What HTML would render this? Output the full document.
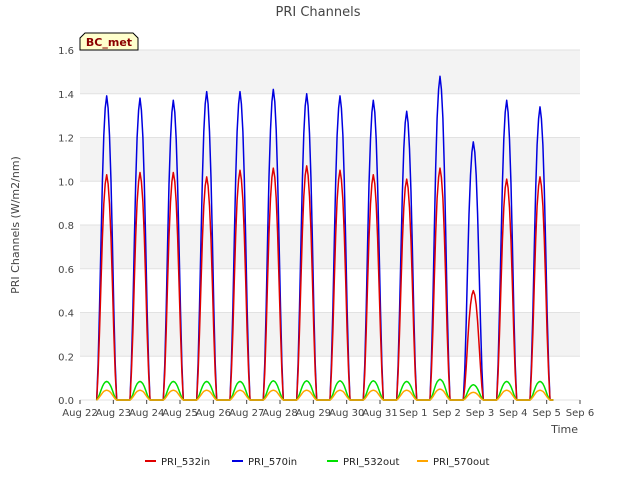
<!DOCTYPE html>
<html><head><meta charset="utf-8"><style>
body{margin:0;background:#fff;font-family:"DejaVu Sans","Liberation Sans",sans-serif}
text{font-family:"DejaVu Sans","Liberation Sans",sans-serif}
</style></head><body>
<svg id="chart" width="640" height="480" viewBox="0 0 640 480" xmlns="http://www.w3.org/2000/svg">
<rect width="640" height="480" fill="#fff"/>
<g id="bands"></g>
<g id="grid"></g>
<g id="series"></g>
<g id="axes"></g>
<text x="318" y="16" text-anchor="middle" font-size="13" fill="#444">PRI Channels</text>
<text transform="translate(19,225) rotate(-90)" text-anchor="middle" font-size="11" fill="#444">PRI Channels (W/m2/nm)</text>
<text x="578" y="433" text-anchor="end" font-size="11" fill="#444">Time</text>
<g>
<path d="M80,50 L80,38 L85,33 L133,33 L138,38 L138,50 Z" fill="#ffffcc" stroke="#000"/>
<text x="109" y="46" text-anchor="middle" font-size="11" font-weight="bold" fill="#8b0000">BC_met</text>
</g>
<g id="legend"></g>
</svg>
<script>
const dayLabels=["Aug 22","Aug 23","Aug 24","Aug 25","Aug 26","Aug 27","Aug 28","Aug 29","Aug 30","Aug 31","Sep 1","Sep 2","Sep 3","Sep 4","Sep 5","Sep 6"];
const yTicks=[0.0,0.2,0.4,0.6,0.8,1.0,1.2,1.4,1.6];
const peak570in=[1.39,1.38,1.37,1.41,1.41,1.42,1.40,1.39,1.37,1.32,1.48,1.18,1.37,1.34];
const peak532in=[1.03,1.04,1.04,1.02,1.05,1.06,1.07,1.05,1.03,1.01,1.06,0.50,1.01,1.02];
const peak532out=[0.085,0.085,0.085,0.085,0.085,0.088,0.088,0.088,0.088,0.085,0.095,0.07,0.085,0.085];
const peak570out=[0.045,0.045,0.045,0.045,0.045,0.045,0.045,0.045,0.045,0.045,0.05,0.035,0.045,0.045];
const profile=[0,0.12,0.3,0.52,0.72,0.87,0.96,1,0.96,0.87,0.72,0.52,0.3,0.12,0];
const seriesNames=["PRI_532in","PRI_570in","PRI_532out","PRI_570out"];
const seriesColors=["#e00000","#0000e0","#00e000","#ffa500"];
const x0=80,x1=580,y0=400,y1=50;
const xs=d=>x0+d*(x1-x0)/15;
const ys=v=>y0-v*(y0-y1)/1.6;
const NS="http://www.w3.org/2000/svg";
function mk(tag,attrs,parent){const e=document.createElementNS(NS,tag);for(const k in attrs)e.setAttribute(k,attrs[k]);parent.appendChild(e);return e;}
const bands=document.getElementById('bands'),grid=document.getElementById('grid'),axes=document.getElementById('axes'),ser=document.getElementById('series'),leg=document.getElementById('legend');
const pa=mk('rect',{x:x0,y:y1,width:x1-x0,height:y0-y1,fill:'#fff'},bands);


for(let i=1;i<yTicks.length-1;i+=2){const b=mk('rect',{x:x0,y:ys(yTicks[i+1]),width:x1-x0,height:ys(yTicks[i])-ys(yTicks[i+1]),fill:'#f3f3f3'},bands);

}
yTicks.forEach(v=>{const l=mk('line',{x1:x0,x2:x1,y1:ys(v),y2:ys(v),stroke:'#e2e2e2','stroke-width':1},grid);


const t=mk('text',{x:x0-6,y:ys(v)+4,'text-anchor':'end','font-size':10,fill:'#444'},axes);t.textContent=v.toFixed(1);

});
dayLabels.forEach((s,i)=>{const l=mk('line',{x1:xs(i),x2:xs(i),y1:y0,y2:y0+4,stroke:'#444'},axes);


const t=mk('text',{x:xs(i),y:y0+16,'text-anchor':'middle','font-size':10,fill:'#444'},axes);t.textContent=s;

});
const peaks=[peak532in,peak570in,peak532out,peak570out];
const order=[1,0,2,3];
order.forEach(si=>{let d='M'+xs(0.5)+','+ys(0);
peaks[si].forEach((p,di)=>{const c=di+0.8;profile.forEach((f,k)=>{const t=c-0.3+k*(0.6/(profile.length-1));d+=' L'+xs(t).toFixed(1)+','+ys(p*f).toFixed(1);});});
d+=' L'+xs(14.2)+','+ys(0);
const pth=mk('path',{d:d,fill:'none',stroke:seriesColors[si],'stroke-width':1.5,'stroke-linejoin':'round'},ser);

});
const lx=[145,232,327,417];
seriesNames.forEach((n,i)=>{const g=mk('g',{},leg);


mk('line',{x1:lx[i],x2:lx[i]+11,y1:461,y2:461,stroke:seriesColors[i],'stroke-width':2},g);
const t=mk('text',{x:lx[i]+16,y:465,'font-size':10,fill:'#222'},g);t.textContent=n;});
</script>
</body></html>
